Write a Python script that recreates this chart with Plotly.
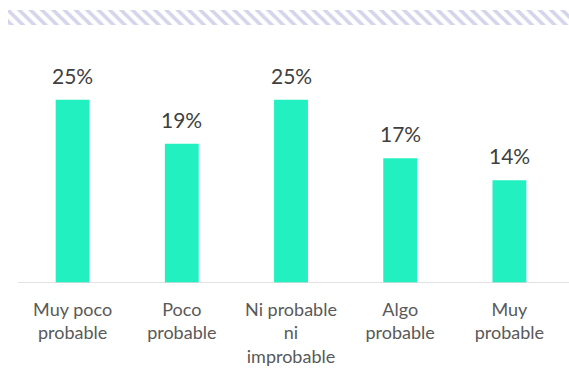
import plotly.graph_objects as go

# Data
categories = ['Muy poco<br>probable', 'Poco<br>probable', 'Ni probable<br>ni<br>improbable',
              'Algo<br>probable', 'Muy<br>probable']
values = [25, 19, 25, 17, 14]
labels = [f'{v}%' for v in values]

BAR_COLOR = '#22F0C0'
HATCH_COLOR = '#a9a9d6'
TEXT_COLOR = '#595959'

W, H = 569, 372
ML, MR, MT, MB = 8, 0, 5, 89
plot_w = W - ML - MR
plot_h = H - MT - MB

fig = go.Figure()

fig.add_trace(go.Bar(
    x=categories,
    y=values,
    marker=dict(color=BAR_COLOR, line_width=0),
    width=0.31,
    cliponaxis=False,
    hoverinfo='skip',
))

# value labels above the bars
for cat, v, lab in zip(categories, values, labels):
    fig.add_annotation(x=cat, y=v, text=lab, showarrow=False, yanchor='bottom',
                       yshift=10, font=dict(size=21, color='#404040'))

# decorative hatched band at the top
fig.add_trace(go.Bar(
    x=[0], y=[1], width=1,
    xaxis='x2', yaxis='y2',
    marker=dict(color='white', line_width=0,
                pattern=dict(shape='\\', fgcolor=HATCH_COLOR, bgcolor='white',
                             size=8, solidity=0.45)),
    hoverinfo='skip',
))

fig.update_layout(
    width=W, height=H,
    margin=dict(l=ML, r=MR, t=MT, b=MB),
    paper_bgcolor='white',
    plot_bgcolor='white',
    showlegend=False,
    font=dict(family='Lato', size=18, color=TEXT_COLOR),
    xaxis=dict(domain=[10 / plot_w, 556 / plot_w], showgrid=False, showline=False,
               ticks='', ticklabelstandoff=14, tickfont=dict(size=18, color=TEXT_COLOR)),
    yaxis=dict(domain=[0, 220 / plot_h], range=[0, 30], visible=False),
    xaxis2=dict(domain=[0, 1], range=[-0.5, 0.5], visible=False, anchor='y2'),
    yaxis2=dict(domain=[(plot_h - 20) / plot_h, (plot_h - 5) / plot_h],
                range=[0, 1], visible=False, anchor='x2'),
    shapes=[dict(type='line', xref='paper', yref='y', x0=10 / plot_w, x1=1, y0=0, y1=0,
                 line=dict(color='#d9d9d9', width=1.5))],
)

fig.write_html('out.html', config={'displayModeBar': False},
               post_script="document.body.style.margin='0';")
